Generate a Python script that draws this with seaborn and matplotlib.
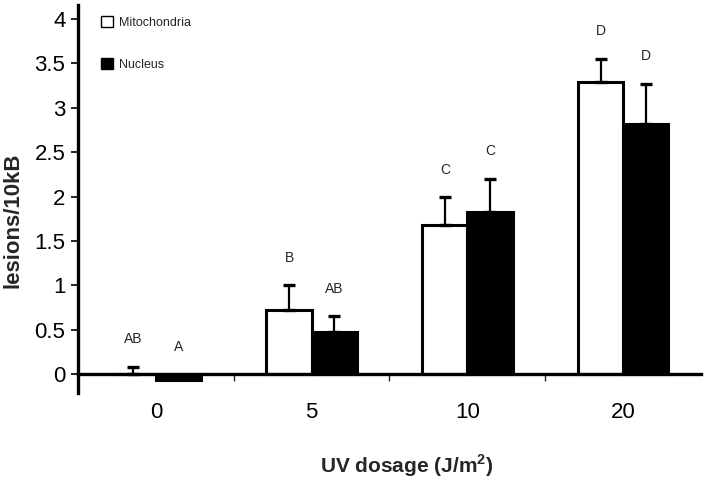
import numpy as np
import pandas as pd
import matplotlib.pyplot as plt
import seaborn as sns
from matplotlib.patches import Patch
from matplotlib.ticker import FixedLocator

# data
doses = ['0', '5', '10', '20']
mito = [0.0, 0.72, 1.68, 3.29]
nucleus = [-0.07, 0.47, 1.83, 2.82]
mito_err = [0.08, 0.28, 0.31, 0.26]
nucleus_err = [0.0, 0.18, 0.37, 0.45]
mito_letters = ['AB', 'B', 'C', 'D']
nucleus_letters = ['A', 'AB', 'C', 'D']

df = pd.DataFrame({
    'dose': doses * 2,
    'value': mito + nucleus,
    'compartment': ['Mitochondria'] * 4 + ['Nucleus'] * 4,
})

sns.set_style('white')
plt.rcParams['font.family'] = ['Liberation Sans', 'DejaVu Sans']

fig = plt.figure(figsize=(7.05, 4.84), dpi=100)
ax = fig.add_axes([0.1106, 0.188, 0.8837, 0.802])

sns.barplot(data=df, x='dose', y='value', hue='compartment', order=doses,
            palette={'Mitochondria': 'white', 'Nucleus': 'black'},
            edgecolor='black', linewidth=2.2, width=0.58, errorbar=None,
            legend=False, ax=ax)

#error bars (upper only) + letters
for cont, errs, letters in zip(ax.containers, [mito_err, nucleus_err],
                               [mito_letters, nucleus_letters]):
    for bar, e, lab in zip(cont, errs, letters):
        xc = bar.get_x() + bar.get_width() / 2
        top = max(bar.get_height(), 0)
        if e > 0:
            ax.errorbar(xc, top, yerr=[[0], [e]], fmt='none', ecolor='black',
                        elinewidth=1.6, capsize=4.5, capthick=2.4, zorder=1)
        ax.text(xc, top + e + 0.31, lab, ha='center', va='center', fontsize=10)

ax.set_xlim(-0.5, 3.5)
ax.set_ylim(-0.214, 4.16)
ax.set_yticks(np.arange(0, 4.01, 0.5))
ax.set_yticklabels(['0', '0.5', '1', '1.5', '2', '2.5', '3', '3.5', '4'])

sns.despine(ax=ax)
ax.spines['bottom'].set_position(('data', 0))
for s in ['left', 'bottom']:
    ax.spines[s].set_linewidth(2.4)
    ax.spines[s].set_color('black')

ax.tick_params(axis='y', direction='out', length=5, width=1.2, pad=4,
               labelsize=16, colors='black', left=True)
ax.tick_params(axis='x', which='major', length=0, pad=20, labelsize=16,
               colors='black')
ax.xaxis.set_minor_locator(FixedLocator([0.5, 1.5, 2.5]))
ax.tick_params(axis='x', which='minor', direction='out', length=5, width=1,
               bottom=True)

ax.set_xlabel('UV dosage (J/m$^\\mathregular{2}$)', fontsize=15, fontweight='bold')
ax.set_ylabel('lesions/10kB', fontsize=16, fontweight='bold')
ax.xaxis.set_label_coords(0.528, -0.152)
ax.yaxis.set_label_coords(-0.088, 0.446)

handles = [Patch(facecolor='white', edgecolor='black', linewidth=1, label='Mitochondria'),
           Patch(facecolor='black', edgecolor='black', linewidth=1, label='Nucleus')]
ax.legend(handles=handles, loc='upper left', bbox_to_anchor=(0.037, 0.97),
          frameon=False, fontsize=9, handlelength=0.95, handleheight=0.95,
          handletextpad=0.5, labelspacing=2.3, borderpad=0, borderaxespad=0)

fig.savefig('out.png', dpi=100)
